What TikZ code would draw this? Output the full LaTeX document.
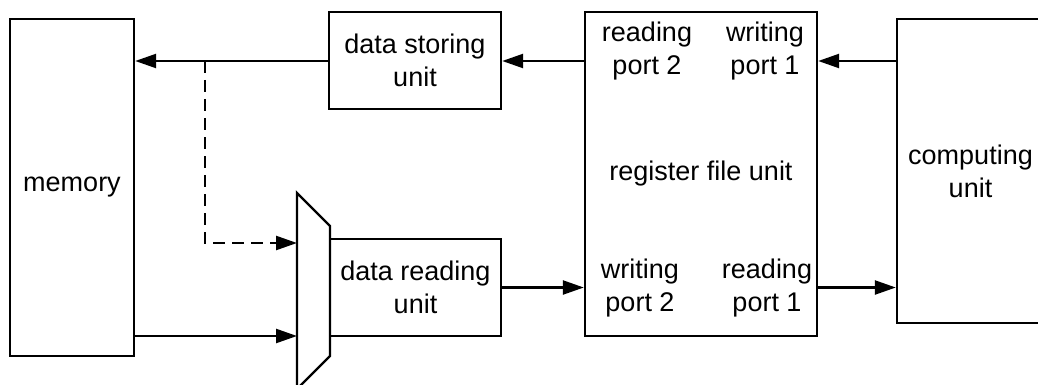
\documentclass[tikz,border=0pt]{standalone}
\usepackage{fontspec}
\setmainfont{Liberation Sans}
\usetikzlibrary{arrows.meta}
\tikzset{
  unit/.style={draw, line width=2.4pt, inner sep=0pt, align=center,
               font=\fontsize{27}{33}\selectfont},
  lbl/.style={inner sep=0pt, align=center, font=\fontsize{27}{33}\selectfont},
  arr/.style={line width=2.4pt, -{Triangle[length=21pt,width=14pt]}},
}

\begin{document}
\begin{tikzpicture}[x=1pt, y=-1pt]
    \clip (0,0) rectangle (1038,385);
    \node[unit, minimum width=124pt, minimum height=337pt] (mem)   at (72,187.5)  {memory};
    \node[unit, minimum width=172pt, minimum height=97pt]  (store) at (415,60.5)  {data storing\\unit};
    \node[unit, minimum width=171pt, minimum height=97pt]  (read)  at (415.5,287.5) {data reading\\unit};
    \node[unit, minimum width=232pt, minimum height=324pt] (reg)   at (701,174)   {};
    \node[unit, minimum width=147pt, minimum height=304pt] (comp)  at (970.5,171) {computing\\unit};
    % ports of the register file
    \node[lbl] (rp2)    at (647,51)  {reading\\port 2};
    \node[lbl] (wp1)    at (765,51)  {writing\\port 1};
    \node[lbl] (reglbl) at (701,174) {register file unit};
    \node[lbl] (wp2)    at (640,288) {writing\\port 2};
    \node[lbl] (rp1)    at (767,288) {reading\\port 1};
    % multiplexer
    \draw[line width=2.4pt, line join=miter] (297,193) -- (330,226) -- (330,356) -- (297,389) -- cycle;
    \coordinate (muxa) at (297,243);
    \coordinate (muxb) at (297,336);
    \coordinate (tap)  at (205,61);
    \draw[arr] (store.west |- tap) -- (mem.east |- tap);
    \draw[arr, dash pattern=on 12pt off 7pt] (tap) |- (muxa);
    \draw[arr] (mem.east |- muxb) -- (muxb);
    \draw[arr] (reg.west |- tap) -- (store.east |- tap);
    \draw[arr] (comp.west |- tap) -- (reg.east |- tap);
    \draw[arr] (read.east) -- (reg.west |- read.east);
    \draw[arr] (reg.east |- read.east) -- (comp.west |- read.east);
  \end{tikzpicture}
\end{document}
